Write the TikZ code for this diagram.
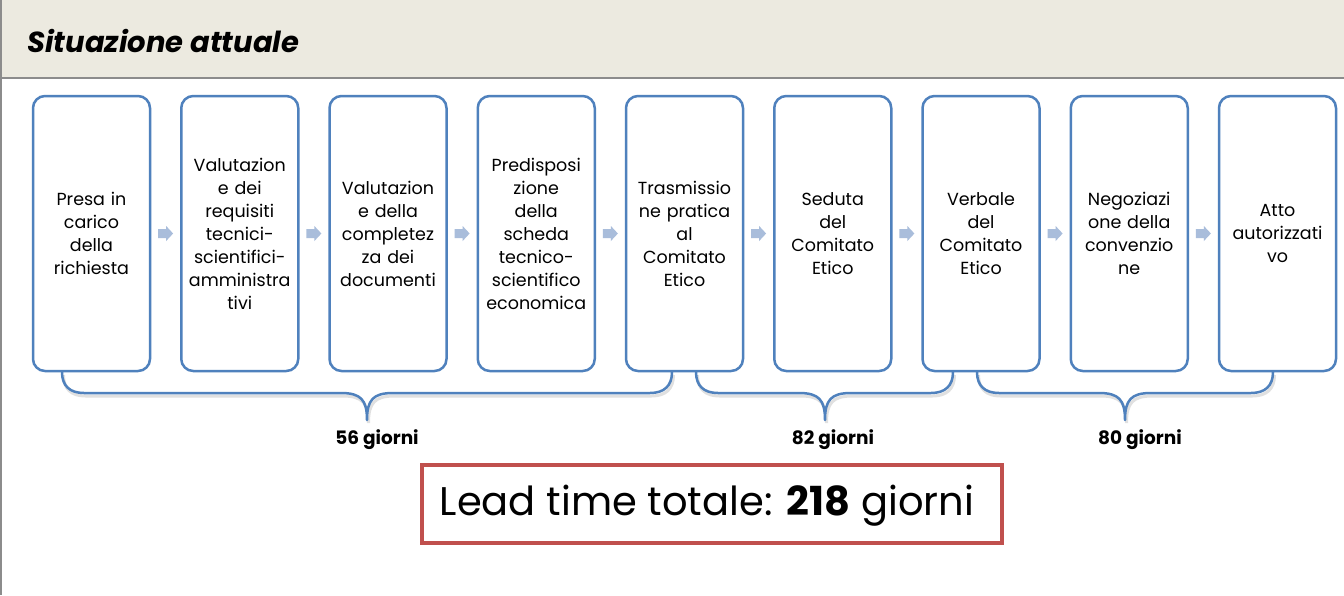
\documentclass[tikz,border=0pt]{standalone}
\usepackage{fontspec}
\setmainfont{Poppins}
\usetikzlibrary{calc}
\definecolor{boxblue}{HTML}{4F81BD}
\definecolor{arrowblue}{HTML}{A9BDDB}
\definecolor{boxred}{HTML}{C0504D}
\definecolor{headfill}{HTML}{ECEAE0}
\definecolor{rulegray}{HTML}{8C8C8C}
\tikzset{
  stepbox/.style={draw=boxblue, line width=2.5pt, rounded corners=12pt,
    minimum width=117pt, minimum height=275pt, align=center, inner sep=0pt,
    text width=115pt, font=\fontsize{17.5}{23}\selectfont},
  flowarrow/.style={fill=arrowblue, draw=none},
  bracepath/.style={draw=boxblue, line width=2.5pt, line cap=round, line join=round},
  braceshadow/.style={draw=black!12, line width=3pt},
  daylabel/.style={font=\bfseries\fontsize{18.5}{22}\selectfont},
  redbox/.style={draw=boxred, line width=4pt, minimum width=580pt, minimum height=78pt},
  leadtext/.style={font=\fontsize{40}{44}\selectfont}
}
\newcommand{\bracedraw}[4]{% left x, tip x, right x, style
  \draw[#4] (#1,372) .. controls (#1,386) and (#1+8,393) .. (#1+22,393)
    -- (#2-26,393) .. controls (#2-6,393) and (#2,400) .. (#2,420)
    .. controls (#2,400) and (#2+6,393) .. (#2+26,393)
    -- (#3-22,393) .. controls (#3-8,393) and (#3,386) .. (#3,372);}
\begin{document}
\begin{tikzpicture}[x=1pt,y=-1pt]
\useasboundingbox (0,0) rectangle (1344,595);
\fill[white] (0,0) rectangle (1344,595);
% header
\fill[headfill] (0,0) rectangle (1344,77);
\draw[rulegray, line width=2pt] (0,78) -- (1344,78);
\draw[rulegray, line width=2pt] (1,0) -- (1,595);
\node[anchor=base west, inner sep=0pt, font=\bfseries\itshape\fontsize{29}{32}\selectfont] (title) at (27,52) {Situazione attuale};
% boxes
\node[stepbox] (b1) at (91.5,233.5) {Presa in\\carico\\della\\richiesta};
\node[stepbox] (b2) at (239.75,233.5) {Valutazion\\e dei\\requisiti\\tecnici-\\scientifici-\\amministra\\tivi};
\node[stepbox] (b3) at (388,233.5) {Valutazion\\e della\\completez\\za dei\\documenti};
\node[stepbox] (b4) at (536.25,233.5) {Predisposi\\zione\\della\\scheda\\tecnico-\\scientifico\\economica};
\node[stepbox] (b5) at (684.5,233.5) {Trasmissio\\ne pratica\\al\\Comitato\\Etico};
\node[stepbox] (b6) at (832.75,233.5) {Seduta\\del\\Comitato\\Etico};
\node[stepbox] (b7) at (981,233.5) {Verbale\\del\\Comitato\\Etico};
\node[stepbox] (b8) at (1129.25,233.5) {Negoziazi\\one della\\convenzio\\ne};
\node[stepbox] (b9) at (1277.5,233.5) {Atto\\autorizzati\\vo};
% arrows
\foreach \a/\b in {b1/b2,b2/b3,b3/b4,b4/b5,b5/b6,b6/b7,b7/b8,b8/b9}{
  \coordinate (m-\a) at ($(\a.east)!0.5!(\b.west)$);
  \fill[flowarrow] ($(m-\a)+(-7.5,-4.5)$) -- ++(8,0) -- ++(0,-3) -- ++(7,7.5)
     -- ++(-7,7.5) -- ++(0,-3) -- ++(-8,0) -- cycle;
}
% braces
\begin{scope}[shift={(1.5,3)}]
\bracedraw{62}{367}{672}{braceshadow}
\bracedraw{696}{825}{953}{braceshadow}
\bracedraw{977}{1125}{1273}{braceshadow}
\end{scope}
\bracedraw{62}{367}{672}{bracepath}
\bracedraw{696}{825}{953}{bracepath}
\bracedraw{977}{1125}{1273}{bracepath}
\coordinate (t1) at (367,420);
\coordinate (t2) at (825,420);
\coordinate (t3) at (1125,420);
\node[daylabel] (l1) at (377,440) {56 giorni};
\node[daylabel] (l2) at (833,440) {82 giorni};
\node[daylabel] (l3) at (1140,440) {80 giorni};
% lead time
\node[redbox] (lt) at (712,504) {};
\node[leadtext] (ltt) at (707,506) {Lead time totale: \textbf{218} giorni};
\end{tikzpicture}
\end{document}
